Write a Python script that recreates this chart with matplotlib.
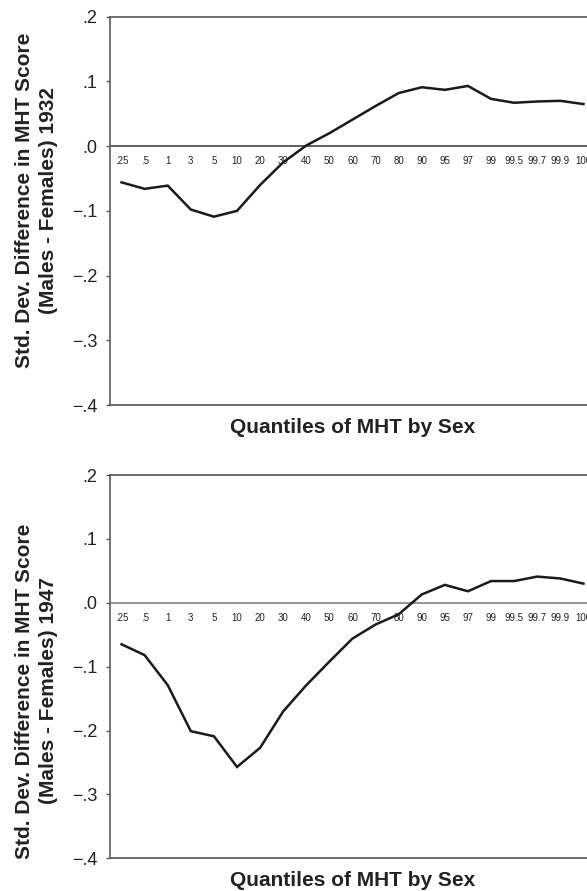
import matplotlib
matplotlib.use("Agg")
import matplotlib.pyplot as plt

plt.rcParams['font.family'] = ['Liberation Sans', 'DejaVu Sans']

quantiles = [".25", ".5", "1", "3", "5", "10", "20", "30", "40", "50", "60",
             "70", "80", "90", "95", "97", "99", "99.5", "99.7", "99.9", "100"]

diff_1932 = [-0.056, -0.066, -0.061, -0.098, -0.109, -0.100, -0.060, -0.025,
             0.001, 0.020, 0.041, 0.062, 0.082, 0.091, 0.087, 0.093, 0.073,
             0.067, 0.069, 0.070, 0.065]

diff_1947 = [-0.065, -0.082, -0.129, -0.201, -0.209, -0.257, -0.227, -0.170,
             -0.129, -0.092, -0.056, -0.034, -0.018, 0.013, 0.028, 0.018,
             0.034, 0.034, 0.041, 0.038, 0.030]

years = ["1932", "1947"]
series = [diff_1932, diff_1947]

yticks = [-0.4, -0.3, -0.2, -0.1, 0.0, 0.1, 0.2]
ytick_labels = ["\u2212.4", "\u2212.3", "\u2212.2", "\u2212.1", ".0", ".1", ".2"]

W, H = 587, 891
fig = plt.figure(figsize=(W / 100, H / 100), dpi=100)

# (top px, bottom px, ylabel centre px) of each panel
panels = [(16.7, 405.0, 200.0), (475.0, 858.3, 691.0)]
left_px, right_px = 110.0, 595.0

for (top, bot, lab_c), year, vals in zip(panels, years, series):
    ax = fig.add_axes([left_px / W, (H - bot) / H, (right_px - left_px) / W, (bot - top) / H])
    x = list(range(len(quantiles)))
    ax.plot(x, vals, color='#1a1a1a', lw=1.8, solid_joinstyle='miter', zorder=3)
    ax.axhline(0, color='#333333' if year == "1932" else '#777777', lw=1.1, zorder=2)
    ax.set_xlim(-0.5, len(quantiles) - 0.5)
    ax.set_ylim(-0.4, 0.2)
    ax.set_yticks(yticks)
    ax.set_yticklabels(ytick_labels)
    ax.tick_params(axis='y', length=3, width=1, pad=6, labelsize=13, colors='#222222')
    ax.tick_params(axis='y', color='#555555')
    ax.set_xticks([])
    for sp in ['top', 'bottom']:
        ax.spines[sp].set_color('#555555')
        ax.spines[sp].set_linewidth(1.2)
    ax.spines['left'].set_color('#666666')
    ax.spines['left'].set_linewidth(1.3)
    ax.spines['right'].set_visible(False)

    for i, q in enumerate(quantiles):
        ax.annotate(q, xy=(i, 0), xytext=(0, -11), textcoords='offset points',
                    ha='center', va='center', fontsize=7, color='#222222')

    ax.set_xlabel("Quantiles of MHT by Sex", fontsize=15, fontweight='bold',
                  color='#222222', va='center')
    ax.xaxis.set_label_coords(0.5, -22.0 / (bot - top))
    ax.set_ylabel("Std. Dev. Difference in MHT Score\n(Males - Females) " + year,
                  fontsize=15, fontweight='bold', color='#222222',
                  linespacing=1.3, va='center', ha='center')
    ax.yaxis.set_label_coords((36.5 - left_px) / (right_px - left_px),
                              (bot - lab_c) / (bot - top))

fig.savefig("out.png", dpi=100)
